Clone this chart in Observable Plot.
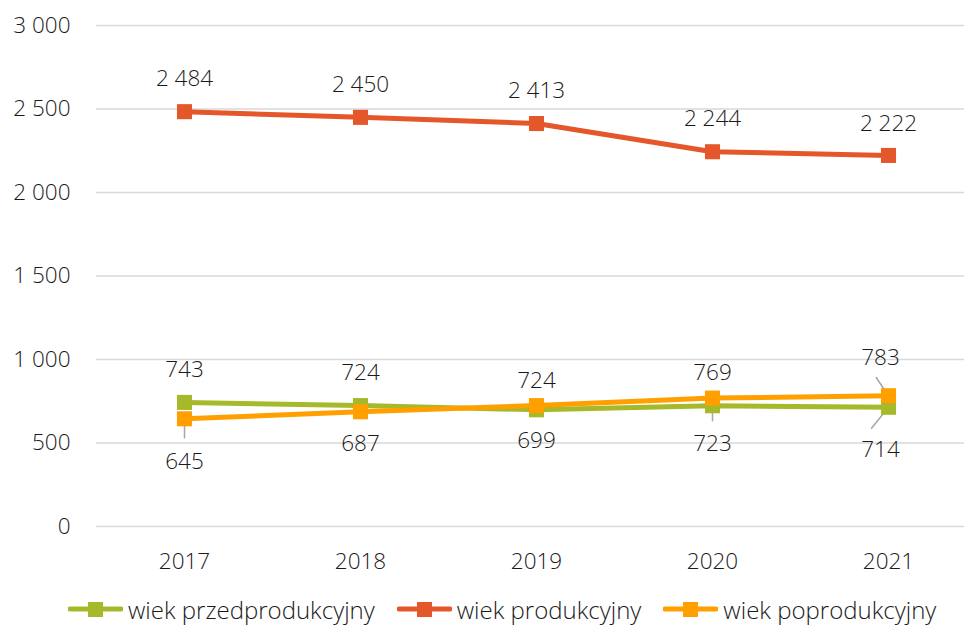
<!DOCTYPE html>
<html><head><meta charset="utf-8">
<script src="https://cdn.jsdelivr.net/npm/d3@7"></script>
<script src="https://cdn.jsdelivr.net/npm/@observablehq/plot@0.6"></script>
<style>
body{margin:0;background:#fff;font-family:"Open Sans",sans-serif;}
#legend{display:flex;align-items:center;height:38px;padding-left:68px;font-size:24px;font-weight:300;color:#1a1a1a;}
.item{display:flex;align-items:center;margin-right:22px;}
.item svg{margin-right:5px;}
</style></head><body><div id="chart"></div><div id="legend"></div><script>
const years = ["2017","2018","2019","2020","2021"];
const seriesNames = ["wiek przedprodukcyjny","wiek produkcyjny","wiek poprodukcyjny"];
const przedprodukcyjny = [743,724,699,723,714];
const produkcyjny = [2484,2450,2413,2244,2222];
const poprodukcyjny = [645,687,724,769,783];
const yTicks = [0,500,1000,1500,2000,2500,3000];
const colors = ["#A5B92A","#E4572A","#FFA000"];

// label placement (pixel offsets) and leader lines
const labelDy = [[-33,-33,31,38,43],[-33,-33,-33,-33,-32],[43,32,-25,-25,-38]];
const labelDx = [[0,0,0,0,-8],[0,0,0,0,0],[0,0,0,0,-8]];
const leaders = [
  {s:2,i:0,length:19,rotate:180},
  {s:0,i:3,length:15,rotate:180},
  {s:2,i:4,length:22,rotate:-34},
  {s:0,i:4,length:27,rotate:-141}
];

const values = [przedprodukcyjny, produkcyjny, poprodukcyjny];
const data = [];
values.forEach((arr,s)=>arr.forEach((v,i)=>data.push({s, series:seriesNames[s], year:years[i], value:v, dx:labelDx[s][i], dy:labelDy[s][i]})));
const leaderData = leaders.map(d=>({...d, year:years[d.i], value:values[d.s][d.i]}));

const fmt = v => d3.format(",")(v).replace(/,/g," ");
const lineShape = {draw(ctx,l){ctx.moveTo(0,0);ctx.lineTo(0,-l);}};

const marks = [
  Plot.ruleY(yTicks,{stroke:"#D9D9D9",strokeWidth:1.5}),
  Plot.axisY({ticks:yTicks,tickSize:0,tickPadding:26,tickFormat:fmt,fontSize:22.5,fill:"#1a1a1a"}),
  Plot.axisX({tickSize:0,tickPadding:27,fontSize:22.5,fill:"#1a1a1a"}),
  Plot.vector(leaderData,{x:"year",y:"value",length:"length",rotate:"rotate",anchor:"start",shape:lineShape,stroke:"#A6A6A6",strokeWidth:1.5})
];
[0,1,2].forEach(s=>{
  const d = data.filter(r=>r.s===s);
  marks.push(Plot.line(d,{x:"year",y:"value",stroke:colors[s],strokeWidth:5}));
  marks.push(Plot.dot(d,{x:"year",y:"value",symbol:"square",r:8.5,fill:colors[s]}));
});
[0,1,2].forEach(s=>{
  const d = data.filter(r=>r.s===s);
  d.forEach(r=>marks.push(Plot.text([r],{x:"year",y:"value",text:r=>fmt(r.value),dx:r.dx,dy:r.dy,fontSize:22.5,fill:"#1a1a1a"})));
});

const chart = Plot.plot({
  width:964,height:590,
  marginLeft:96,marginRight:0,marginTop:25,marginBottom:64,
  style:{fontFamily:"Open Sans",fontWeight:300,background:"#fff"},
  x:{type:"point",domain:years,range:[184,888],padding:0,label:null},
  y:{domain:[0,3000],label:null},
  length:{type:"identity"},
  marks
});
document.getElementById("chart").appendChild(chart);

const legend = document.getElementById("legend");
seriesNames.forEach((n,s)=>{
  const it = document.createElement("div"); it.className="item";
  it.innerHTML = `<svg width="55" height="20"><line x1="2" x2="53" y1="10" y2="10" stroke="${colors[s]}" stroke-width="5" stroke-linecap="round"/><rect x="20" y="3" width="15" height="15" fill="${colors[s]}"/></svg><span>${n}</span>`;
  legend.appendChild(it);
});
</script></body></html>
